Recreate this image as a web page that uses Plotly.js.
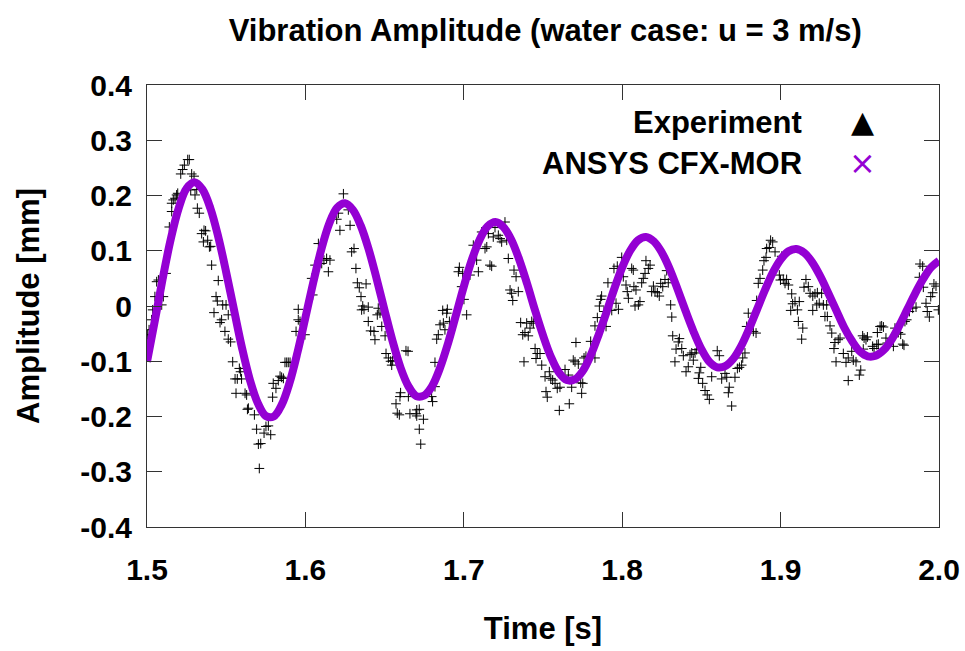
<!DOCTYPE html>
<html>
<head>
<meta charset="utf-8">
<script src="https://cdn.plot.ly/plotly-3.0.1.min.js"></script>
<style>html,body{margin:0;padding:0;background:#fff;}#chart{width:965px;height:651px;}</style>
</head>
<body>
<div id="chart"></div>
<script>
// ANSYS CFX-MOR simulated amplitude [mm] sampled every 0.005 s from 1.5 s to 2.0 s
const simTime = [1.500,1.505,1.510,1.515,1.520,1.525,1.530,1.535,1.540,1.545,1.550,1.555,1.560,1.565,1.570,1.575,
1.580,1.585,1.590,1.595,1.600,1.605,1.610,1.615,1.620,1.625,1.630,1.635,1.640,1.645,1.650,1.655,1.660,1.665,1.670,
1.675,1.680,1.685,1.690,1.695,1.700,1.705,1.710,1.715,1.720,1.725,1.730,1.735,1.740,1.745,1.750,1.755,1.760,1.765,
1.770,1.775,1.780,1.785,1.790,1.795,1.800,1.805,1.810,1.815,1.820,1.825,1.830,1.835,1.840,1.845,1.850,1.855,1.860,
1.865,1.870,1.875,1.880,1.885,1.890,1.895,1.900,1.905,1.910,1.915,1.920,1.925,1.930,1.935,1.940,1.945,1.950,1.955,
1.960,1.965,1.970,1.975,1.980,1.985,1.990,1.995,2.000];
const simAmp = [-0.101,-0.026,0.051,0.121,0.177,0.213,0.224,0.211,0.177,0.125,0.061,-0.008,-0.076,-0.134,-0.176,-0.199,
-0.200,-0.179,-0.139,-0.084,-0.021,0.043,0.102,0.149,0.178,0.186,0.174,0.145,0.102,0.049,-0.008,-0.063,-0.111,-0.145,-0.163,
-0.162,-0.145,-0.112,-0.068,-0.017,0.035,0.083,0.120,0.144,0.152,0.143,0.120,0.084,0.040,-0.008,-0.053,-0.092,-0.120,-0.134,
-0.133,-0.118,-0.090,-0.053,-0.012,0.031,0.070,0.100,0.119,0.125,0.117,0.097,0.067,0.030,-0.009,-0.046,-0.078,-0.101,-0.111,
-0.109,-0.096,-0.073,-0.042,-0.007,0.028,0.060,0.084,0.099,0.103,0.096,0.079,0.054,0.024,-0.007,-0.038,-0.063,-0.082,-0.091,
-0.090,-0.080,-0.061,-0.035,-0.006,0.023,0.049,0.070,0.082];

// Experiment: measured amplitude [mm]
const expTime = [1.5000,1.5002,1.5013,1.5029,1.5036,1.5050,1.5061,1.5072,1.5103,1.5093,1.5120,1.5141,1.5156,1.5156,1.5166,1.5177,
1.5187,1.5194,1.5213,1.5225,1.5236,1.5257,1.5267,1.5282,1.5297,1.5276,1.5314,1.5303,1.5318,1.5330,1.5345,1.5360,1.5370,1.5356,
1.5383,1.5394,1.5402,1.5408,1.5450,1.5436,1.5444,1.5423,1.5478,1.5499,1.5513,1.5461,1.5471,1.5492,1.5513,1.5528,1.5541,1.5583,
1.5591,1.5556,1.5570,1.5597,1.5562,1.5619,1.5629,1.5634,1.5640,1.5678,1.5692,1.5739,1.5781,1.5766,1.5751,1.5703,1.5718,1.5709,
1.5793,1.5797,1.5814,1.5829,1.5840,1.5850,1.5861,1.5871,1.5882,1.5892,1.5903,1.5941,1.5955,1.5966,1.5955,1.5997,
1.6040,1.6046,1.6061,1.6082,1.6103,1.6117,1.6134,1.6155,1.6145,1.6198,1.6218,1.6208,1.6240,1.6271,1.6282,1.6292,1.6307,1.6319,
1.6328,1.6340,1.6383,1.6351,1.6362,1.6370,1.6355,1.6397,1.6397,1.6412,1.6433,1.6439,1.6460,1.6471,1.6454,1.6482,1.6503,1.6509,
1.6524,1.6538,1.6551,1.6545,1.6635,1.6648,1.6601,1.6597,1.6572,1.6580,1.6593,1.6650,1.6660,1.6698,1.6703,1.6719,1.6703,1.6745,
1.6719,1.6728,1.6797,1.6803,1.6818,1.6818,1.6829,1.6839,1.6850,1.6871,1.6881,1.6867,1.6892,1.6896,1.6909,1.6972,1.6966,1.6993,
1.6987,1.7001,1.7018,
1.7039,1.7081,1.7092,1.7060,1.7113,1.7134,1.7145,1.7155,1.7165,1.7176,1.7186,1.7197,1.7218,1.7229,1.7239,1.7260,1.7271,1.7281,
1.7317,1.7330,1.7292,1.7302,1.7309,1.7344,1.7359,1.7372,1.7386,1.7397,1.7407,1.7418,1.7429,1.7439,1.7380,1.7450,1.7464,1.7456,
1.7481,1.7492,1.7513,1.7540,1.7549,1.7561,1.7576,1.7590,1.7607,1.7519,1.7527,1.7603,1.7666,1.7639,1.7660,1.7681,1.7708,1.7691,
1.7702,1.7723,1.7738,1.7751,1.7744,1.7759,1.7771,1.7801,1.7828,1.7828,1.7843,1.7856,1.7864,1.7870,1.7885,1.7898,1.7910,1.7934,
1.7961,1.7976,1.7948,1.7969,1.7997,1.8007,1.8024,1.8032,1.8039,
1.8060,1.8070,1.8074,1.8087,1.8081,1.8102,1.8112,1.8123,1.8133,1.8144,1.8150,1.8165,1.8176,1.8186,1.8197,1.8207,1.8222,1.8234,
1.8243,1.8256,1.8270,1.8291,1.8281,1.8306,1.8313,1.8319,1.8340,1.8354,1.8361,1.8376,1.8333,1.8386,1.8403,1.8417,1.8428,1.8439,
1.8449,1.8460,1.8470,1.8487,1.8496,1.8481,1.8508,1.8523,1.8537,1.8550,1.8565,1.8600,1.8613,1.8628,1.8649,1.8660,1.8676,1.8670,
1.8691,1.8712,1.8727,1.8740,1.8754,1.8761,1.8775,1.8786,1.8796,1.8828,1.8845,1.8849,1.8859,1.8870,1.8887,1.8895,1.8908,1.8912,
1.8929,1.8937,1.8950,1.8965,1.8992,1.9007,1.8999,1.9017,1.9028,1.9038,1.9049,
1.9070,1.9076,1.9091,1.9118,1.9064,1.9106,1.9112,1.9140,1.9133,1.9160,1.9175,1.9148,1.9186,1.9203,1.9217,1.9232,1.9259,1.9244,
1.9203,1.9228,1.9270,1.9291,1.9280,1.9295,1.9312,1.9323,1.9343,1.9364,1.9375,1.9337,1.9350,1.9396,1.9413,1.9427,1.9449,1.9459,
1.9476,1.9427,1.9497,1.9506,1.9518,1.9527,1.9539,1.9548,1.9522,1.9581,1.9590,1.9607,1.9617,1.9611,1.9628,1.9638,1.9649,1.9665,
1.9674,1.9712,1.9722,1.9733,1.9743,1.9758,1.9771,1.9779,1.9785,1.9796,1.9813,1.9834,1.9855,1.9876,1.9880,1.9897,1.9901,1.9918,
1.9926,1.9939,1.9948,1.9960,1.9968,1.9981,1.9996];
const expAmp = [-0.067,-0.052,-0.043,-0.025,-0.007,0.017,0.044,0.047,0.017,0.002,0.059,0.143,0.171,0.186,0.192,0.195,
0.201,0.204,0.239,0.247,0.255,0.265,0.265,0.239,0.235,0.210,0.211,0.201,0.177,0.168,0.131,0.137,0.136,0.116,
0.119,0.107,0.108,0.074,0.046,0.017,0.009,-0.012,0.002,0.002,-0.016,-0.030,-0.025,-0.046,-0.060,-0.065,-0.101,-0.113,
-0.119,-0.132,-0.132,-0.132,-0.158,-0.158,-0.161,-0.187,-0.185,-0.197,-0.223,-0.230,-0.233,-0.217,-0.218,-0.250,-0.249,-0.294,
-0.165,-0.140,-0.149,-0.135,-0.127,-0.129,-0.131,-0.102,-0.102,-0.102,-0.102,-0.046,-0.025,-0.028,-0.006,-0.052,
0.050,0.020,0.074,0.113,0.077,0.083,0.086,0.083,0.062,0.157,0.137,0.168,0.203,0.174,0.146,0.098,0.104,0.068,
0.042,0.033,0.040,0.017,0.000,-0.006,-0.007,-0.002,-0.028,-0.045,-0.046,-0.061,-0.004,-0.013,-0.016,-0.037,-0.054,-0.086,
-0.094,-0.100,-0.099,-0.107,-0.081,-0.082,-0.157,-0.164,-0.177,-0.194,-0.197,-0.164,-0.195,-0.195,-0.188,-0.187,-0.199,-0.205,
-0.223,-0.250,-0.164,-0.173,-0.146,-0.102,-0.060,-0.052,-0.034,-0.031,-0.043,-0.008,-0.013,-0.006,-0.028,0.070,0.062,0.059,
0.035,0.012,-0.016,
0.056,0.083,0.062,0.110,0.134,0.104,0.107,0.131,0.074,0.072,0.125,0.142,0.128,0.122,0.116,0.152,0.119,0.086,
0.065,0.053,0.029,0.023,0.010,0.026,-0.030,-0.052,-0.048,-0.031,-0.054,-0.040,-0.028,-0.031,-0.101,-0.077,-0.086,-0.095,
-0.086,-0.107,-0.128,-0.119,-0.131,-0.134,-0.140,-0.149,-0.147,-0.155,-0.165,-0.189,-0.177,-0.115,-0.125,-0.147,-0.066,-0.098,
-0.101,-0.105,-0.139,-0.140,-0.158,-0.094,-0.091,-0.064,-0.094,-0.036,-0.021,0.000,0.012,0.018,-0.010,-0.037,0.042,-0.008,
0.005,-0.006,0.068,0.072,0.088,0.053,0.038,0.026,0.014,
0.068,0.065,0.035,0.029,0.000,0.002,0.008,0.042,0.050,0.059,0.082,0.068,0.074,0.026,0.036,0.026,0.024,0.018,
0.041,0.035,0.048,0.042,0.064,0.002,-0.020,-0.054,-0.078,-0.065,-0.059,-0.077,-0.101,-0.090,-0.119,-0.110,-0.088,-0.085,
-0.098,-0.085,-0.079,-0.121,-0.111,-0.131,-0.140,-0.153,-0.161,-0.169,-0.128,-0.081,-0.090,-0.132,-0.122,-0.129,-0.147,-0.157,
-0.181,-0.129,-0.113,-0.111,-0.107,-0.094,-0.085,-0.037,-0.013,-0.046,-0.049,0.010,0.041,0.050,0.065,0.082,0.088,0.104,
0.106,0.119,0.116,0.098,0.056,0.090,0.047,0.048,0.041,0.048,0.038,
0.022,0.004,0.008,0.008,-0.008,-0.007,-0.028,-0.040,-0.060,0.048,0.035,0.034,0.023,0.018,0.022,0.024,0.023,0.005,
-0.008,0.002,0.002,0.002,-0.019,-0.019,-0.036,-0.049,-0.066,-0.061,-0.058,-0.077,-0.101,-0.086,-0.102,-0.094,-0.082,-0.098,
-0.101,-0.135,-0.125,-0.116,-0.054,-0.058,-0.061,-0.056,-0.078,-0.073,-0.077,-0.070,-0.069,-0.048,-0.037,-0.036,-0.038,-0.058,
-0.067,-0.073,-0.040,-0.049,-0.048,-0.051,-0.069,-0.071,-0.028,-0.025,-0.010,-0.004,-0.002,0.052,0.076,0.072,0.034,0.005,
-0.010,-0.020,0.017,0.024,0.040,0.036,-0.007];

const xTickVals = [1.5,1.6,1.7,1.8,1.9,2.0];
const xTickText = ['1.5','1.6','1.7','1.8','1.9','2.0'];
const yTickVals = [-0.4,-0.3,-0.2,-0.1,0,0.1,0.2,0.3,0.4];
const yTickText = ['-0.4','-0.3','-0.2','-0.1','0','0.1','0.2','0.3','0.4'];

const FONT = 'Liberation Sans, Arial, Helvetica, sans-serif';
const PURPLE = '#9400d3';

const traces = [
  {
    x: expTime, y: expAmp, type: 'scatter', mode: 'markers', name: 'Experiment',
    marker: {symbol: 'cross-thin', size: 7, color: '#000', line: {color: '#000', width: 1}},
    showlegend: false, hoverinfo: 'x+y'
  },
  {
    x: simTime, y: simAmp, type: 'scatter', mode: 'lines', name: 'ANSYS CFX-MOR',
    line: {color: PURPLE, width: 8, shape: 'spline', smoothing: 1},
    showlegend: false
  }
];

const axisCommon = {
  showgrid: false, zeroline: false, showline: true, mirror: 'ticks',
  linecolor: '#333', linewidth: 1, ticks: 'inside', ticklen: 15, tickcolor: '#333', tickwidth: 1,
  tickfont: {family: FONT, size: 30, color: '#000', weight: 'bold'}
};

const layout = {
  width: 965, height: 651,
  margin: {l: 147, r: 26, t: 85, b: 124},
  paper_bgcolor: '#fff', plot_bgcolor: '#fff',
  showlegend: false,
  title: {text: 'Vibration Amplitude (water case: u = 3 m/s)', x: 0.565, xanchor: 'center', y: 0.953, yanchor: 'middle',
          font: {family: FONT, size: 31, color: '#000', weight: 'bold'}},
  xaxis: Object.assign({}, axisCommon, {
    range: [1.5, 2.0], tickvals: xTickVals, ticktext: xTickText, ticklabelstandoff: 16,
    title: {text: 'Time [s]', standoff: 32, font: {family: FONT, size: 31, color: '#000', weight: 'bold'}}
  }),
  yaxis: Object.assign({}, axisCommon, {
    range: [-0.4, 0.4], tickvals: yTickVals, ticktext: yTickText, ticklabelstandoff: 8,
    title: {text: 'Amplitude [mm]', standoff: 31, font: {family: FONT, size: 31, color: '#000', weight: 'bold'}}
  }),
  annotations: [
    {xref: 'paper', yref: 'paper', x: 0.829, y: 0.916, xanchor: 'right', yanchor: 'middle', showarrow: false,
     text: 'Experiment', font: {family: FONT, size: 31, color: '#000', weight: 'bold'}},
    {xref: 'paper', yref: 'paper', x: 0.829, y: 0.8235, xanchor: 'right', yanchor: 'middle', showarrow: false,
     text: 'ANSYS CFX-MOR', font: {family: FONT, size: 31, color: '#000', weight: 'bold'}},
    {xref: 'paper', yref: 'paper', x: 0.904, y: 0.918, xanchor: 'center', yanchor: 'middle', showarrow: false,
     text: '▲', font: {family: 'DejaVu Sans, sans-serif', size: 30, color: '#000'}},
    {xref: 'paper', yref: 'paper', x: 0.904, y: 0.8235, xanchor: 'center', yanchor: 'middle', showarrow: false,
     text: '×', font: {family: 'DejaVu Sans, sans-serif', size: 32, color: PURPLE}}
  ]
};

Plotly.newPlot('chart', traces, layout, {displayModeBar: false, staticPlot: true});
</script>
</body>
</html>
